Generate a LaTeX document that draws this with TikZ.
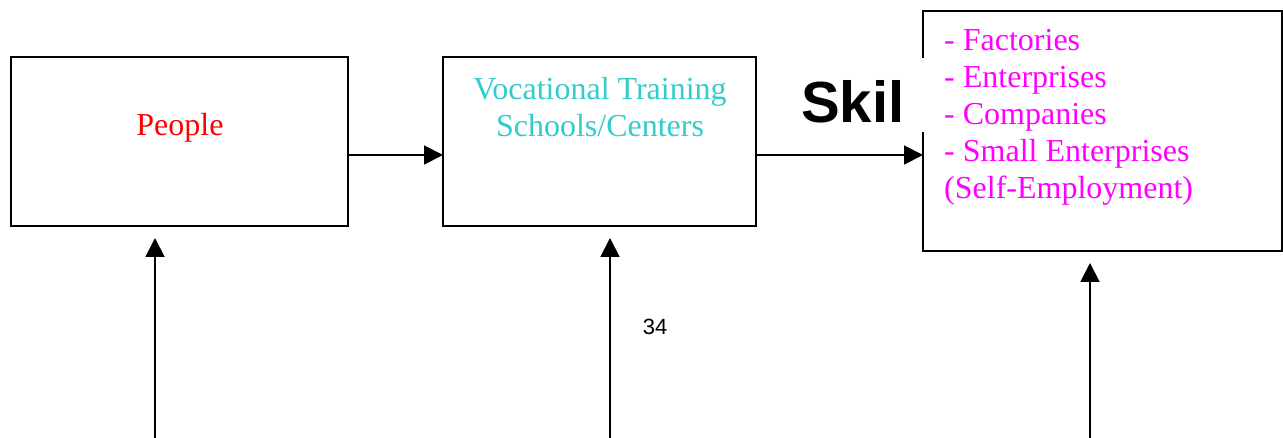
\documentclass[tikz,border=0pt]{standalone}
\usepackage{fontspec}
\setmainfont{Liberation Serif}
\setsansfont{Liberation Sans}
\usetikzlibrary{arrows.meta}
\definecolor{vtcyan}{RGB}{51,204,204}
\definecolor{mag}{RGB}{255,0,255}
\begin{document}
\begin{tikzpicture}[x=1pt,y=-1pt,
  boxst/.style={draw=black,line width=1.9pt,fill=white},
  arr/.style={line width=1.9pt,-{Triangle[length=19pt,width=19pt]}},
  txt/.style={font=\fontsize{32}{37}\selectfont}]
\useasboundingbox (0,0) rectangle (1283,438);
% boxes
\draw[boxst] (11,57) rectangle (348,226);
\draw[boxst] (443,57) rectangle (756,226);
\draw[boxst] (923,11) rectangle (1282,251);
\coordinate (pw) at (348,155);
\coordinate (ve) at (443,155);
\coordinate (vw) at (756,155);
\coordinate (re) at (923,155);
\node[txt,text=red] (people) at (180,128) {People};
\node[txt,text=vtcyan,align=center] (voc) at (600,107) {Vocational Training\\Schools/Centers};
\node[txt,text=mag,align=left,anchor=north west,inner sep=0pt] (ent) at (944,29)
  {- Factories\\- Enterprises\\- Companies\\- Small Enterprises\\(Self-Employment)};
% Skil label with white patch
\node[fill=white,inner sep=0pt,minimum width=137pt,minimum height=74pt] (skilbg) at (858.5,95) {};
\node[font=\sffamily\bfseries\fontsize{58}{60}\selectfont,anchor=west,inner sep=0pt] (skil) at (801,102) {Skil};
% arrows
\draw[arr] (pw) -- (ve);
\draw[arr] (vw) -- (re);
\coordinate (b1) at (155,438);
\coordinate (t1) at (155,238);
\coordinate (b2) at (610,438);
\coordinate (t2) at (610,238);
\coordinate (b3) at (1090,438);
\coordinate (t3) at (1090,263);
\draw[arr] (b1) -- (t1);
\draw[arr] (b2) -- (t2);
\draw[arr] (b3) -- (t3);
\node[font=\sffamily\fontsize{22}{24}\selectfont] (num) at (655,327) {34};
\end{tikzpicture}
\end{document}
